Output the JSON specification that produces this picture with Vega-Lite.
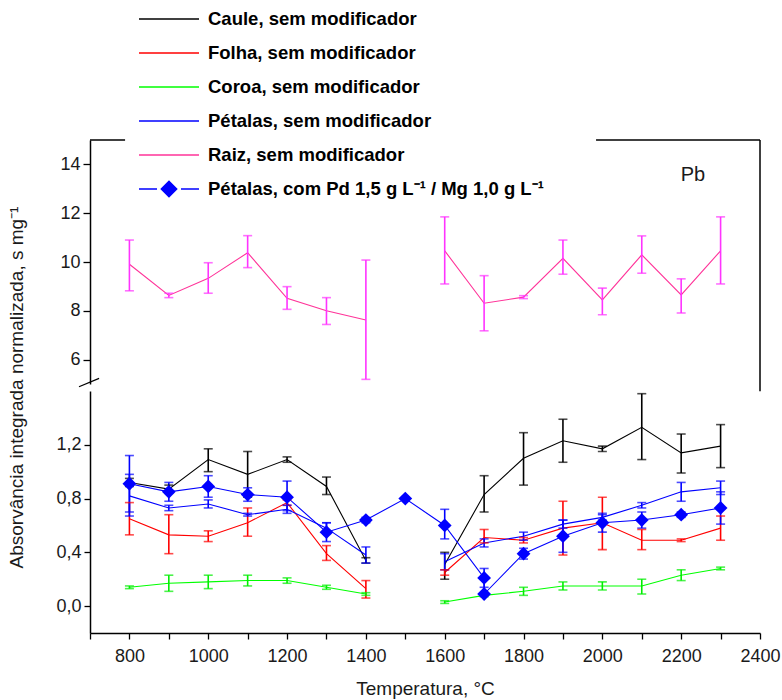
{
  "$schema": "https://vega.github.io/schema/vega-lite/v6.json",
  "padding": {"left": 6, "top": 0, "right": 10, "bottom": 5},
  "bounds": "flush",
  "spacing": 7,
  "background": "white",
  "config": {
    "view": {"stroke": null},
    "font": "Liberation Sans",
    "axis": {
      "grid": false,
      "domainColor": "#000",
      "domainWidth": 1.5,
      "tickColor": "#000",
      "tickWidth": 1.3,
      "labelColor": "#1a1a1a",
      "labelFont": "Liberation Sans Narrow, Liberation Sans",
      "labelFontSize": 18,
      "labelOverlap": false,
      "titleColor": "#1a1a1a",
      "titleFont": "Liberation Sans",
      "titleFontWeight": "normal"
    }
  },
  "resolve": {"scale": {"color": "shared", "stroke": "shared", "fill": "shared", "x": "shared"}},
  "datasets": {
    "d": [
      {"s": "Caule, sem modificador", "p": "a", "T": 800, "v": 0.92, "lo": 0.89, "hi": 0.95},
      {"s": "Caule, sem modificador", "p": "a", "T": 900, "v": 0.87, "lo": 0.84, "hi": 0.90},
      {"s": "Caule, sem modificador", "p": "a", "T": 1000, "v": 1.09, "lo": 1.00, "hi": 1.17},
      {"s": "Caule, sem modificador", "p": "a", "T": 1100, "v": 0.98, "lo": 0.81, "hi": 1.15},
      {"s": "Caule, sem modificador", "p": "a", "T": 1200, "v": 1.09, "lo": 1.07, "hi": 1.11},
      {"s": "Caule, sem modificador", "p": "a", "T": 1300, "v": 0.89, "lo": 0.83, "hi": 0.96},
      {"s": "Caule, sem modificador", "p": "a", "T": 1400, "v": 0.34, "lo": 0.32, "hi": 0.36},
      {"s": "Caule, sem modificador", "p": "b", "T": 1600, "v": 0.31, "lo": 0.20, "hi": 0.40},
      {"s": "Caule, sem modificador", "p": "b", "T": 1700, "v": 0.83, "lo": 0.70, "hi": 0.97},
      {"s": "Caule, sem modificador", "p": "b", "T": 1800, "v": 1.10, "lo": 0.90, "hi": 1.29},
      {"s": "Caule, sem modificador", "p": "b", "T": 1900, "v": 1.23, "lo": 1.07, "hi": 1.39},
      {"s": "Caule, sem modificador", "p": "b", "T": 2000, "v": 1.17, "lo": 1.15, "hi": 1.19},
      {"s": "Caule, sem modificador", "p": "b", "T": 2100, "v": 1.33, "lo": 1.09, "hi": 1.58},
      {"s": "Caule, sem modificador", "p": "b", "T": 2200, "v": 1.14, "lo": 0.99, "hi": 1.28},
      {"s": "Caule, sem modificador", "p": "b", "T": 2300, "v": 1.19, "lo": 1.03, "hi": 1.35},

      {"s": "Folha, sem modificador", "p": "a", "T": 800, "v": 0.65, "lo": 0.53, "hi": 0.77},
      {"s": "Folha, sem modificador", "p": "a", "T": 900, "v": 0.53, "lo": 0.39, "hi": 0.68},
      {"s": "Folha, sem modificador", "p": "a", "T": 1000, "v": 0.52, "lo": 0.48, "hi": 0.56},
      {"s": "Folha, sem modificador", "p": "a", "T": 1100, "v": 0.62, "lo": 0.52, "hi": 0.73},
      {"s": "Folha, sem modificador", "p": "a", "T": 1200, "v": 0.77, "lo": 0.75, "hi": 0.79},
      {"s": "Folha, sem modificador", "p": "a", "T": 1300, "v": 0.39, "lo": 0.34, "hi": 0.45},
      {"s": "Folha, sem modificador", "p": "a", "T": 1400, "v": 0.13, "lo": 0.06, "hi": 0.19},
      {"s": "Folha, sem modificador", "p": "b", "T": 1600, "v": 0.25, "lo": 0.23, "hi": 0.27},
      {"s": "Folha, sem modificador", "p": "b", "T": 1700, "v": 0.51, "lo": 0.47, "hi": 0.57},
      {"s": "Folha, sem modificador", "p": "b", "T": 1800, "v": 0.49, "lo": 0.47, "hi": 0.51},
      {"s": "Folha, sem modificador", "p": "b", "T": 1900, "v": 0.58, "lo": 0.38, "hi": 0.78},
      {"s": "Folha, sem modificador", "p": "b", "T": 2000, "v": 0.62, "lo": 0.42, "hi": 0.81},
      {"s": "Folha, sem modificador", "p": "b", "T": 2100, "v": 0.49, "lo": 0.42, "hi": 0.57},
      {"s": "Folha, sem modificador", "p": "b", "T": 2200, "v": 0.49, "lo": 0.48, "hi": 0.50},
      {"s": "Folha, sem modificador", "p": "b", "T": 2300, "v": 0.58, "lo": 0.49, "hi": 0.67},

      {"s": "Coroa, sem modificador", "p": "a", "T": 800, "v": 0.14, "lo": 0.13, "hi": 0.15},
      {"s": "Coroa, sem modificador", "p": "a", "T": 900, "v": 0.17, "lo": 0.11, "hi": 0.23},
      {"s": "Coroa, sem modificador", "p": "a", "T": 1000, "v": 0.18, "lo": 0.13, "hi": 0.23},
      {"s": "Coroa, sem modificador", "p": "a", "T": 1100, "v": 0.19, "lo": 0.15, "hi": 0.23},
      {"s": "Coroa, sem modificador", "p": "a", "T": 1200, "v": 0.19, "lo": 0.17, "hi": 0.21},
      {"s": "Coroa, sem modificador", "p": "a", "T": 1300, "v": 0.14, "lo": 0.125, "hi": 0.155},
      {"s": "Coroa, sem modificador", "p": "a", "T": 1400, "v": 0.09, "lo": 0.08, "hi": 0.10},
      {"s": "Coroa, sem modificador", "p": "b", "T": 1600, "v": 0.03, "lo": 0.02, "hi": 0.04},
      {"s": "Coroa, sem modificador", "p": "b", "T": 1700, "v": 0.08, "lo": 0.07, "hi": 0.09},
      {"s": "Coroa, sem modificador", "p": "b", "T": 1800, "v": 0.11, "lo": 0.08, "hi": 0.14},
      {"s": "Coroa, sem modificador", "p": "b", "T": 1900, "v": 0.15, "lo": 0.12, "hi": 0.18},
      {"s": "Coroa, sem modificador", "p": "b", "T": 2000, "v": 0.15, "lo": 0.12, "hi": 0.18},
      {"s": "Coroa, sem modificador", "p": "b", "T": 2100, "v": 0.15, "lo": 0.09, "hi": 0.20},
      {"s": "Coroa, sem modificador", "p": "b", "T": 2200, "v": 0.23, "lo": 0.19, "hi": 0.27},
      {"s": "Coroa, sem modificador", "p": "b", "T": 2300, "v": 0.28, "lo": 0.27, "hi": 0.29},

      {"s": "Pétalas, sem modificador", "p": "a", "T": 800, "v": 0.82, "lo": 0.67, "hi": 0.98},
      {"s": "Pétalas, sem modificador", "p": "a", "T": 900, "v": 0.73, "lo": 0.71, "hi": 0.75},
      {"s": "Pétalas, sem modificador", "p": "a", "T": 1000, "v": 0.76, "lo": 0.73, "hi": 0.79},
      {"s": "Pétalas, sem modificador", "p": "a", "T": 1100, "v": 0.68, "lo": 0.67, "hi": 0.69},
      {"s": "Pétalas, sem modificador", "p": "a", "T": 1200, "v": 0.72, "lo": 0.69, "hi": 0.75},
      {"s": "Pétalas, sem modificador", "p": "a", "T": 1300, "v": 0.58, "lo": 0.54, "hi": 0.62},
      {"s": "Pétalas, sem modificador", "p": "a", "T": 1400, "v": 0.38, "lo": 0.32, "hi": 0.44},
      {"s": "Pétalas, sem modificador", "p": "b", "T": 1600, "v": 0.33, "lo": 0.27, "hi": 0.39},
      {"s": "Pétalas, sem modificador", "p": "b", "T": 1700, "v": 0.47, "lo": 0.44, "hi": 0.50},
      {"s": "Pétalas, sem modificador", "p": "b", "T": 1800, "v": 0.52, "lo": 0.49, "hi": 0.55},
      {"s": "Pétalas, sem modificador", "p": "b", "T": 1900, "v": 0.61, "lo": 0.58, "hi": 0.64},
      {"s": "Pétalas, sem modificador", "p": "b", "T": 2000, "v": 0.66, "lo": 0.64, "hi": 0.68},
      {"s": "Pétalas, sem modificador", "p": "b", "T": 2100, "v": 0.75, "lo": 0.73, "hi": 0.77},
      {"s": "Pétalas, sem modificador", "p": "b", "T": 2200, "v": 0.85, "lo": 0.78, "hi": 0.92},
      {"s": "Pétalas, sem modificador", "p": "b", "T": 2300, "v": 0.88, "lo": 0.83, "hi": 0.93},

      {"s": "Raiz, sem modificador", "p": "a", "T": 800, "v": 9.91, "lo": 8.82, "hi": 10.90},
      {"s": "Raiz, sem modificador", "p": "a", "T": 900, "v": 8.63, "lo": 8.54, "hi": 8.72},
      {"s": "Raiz, sem modificador", "p": "a", "T": 1000, "v": 9.33, "lo": 8.72, "hi": 9.97},
      {"s": "Raiz, sem modificador", "p": "a", "T": 1100, "v": 10.38, "lo": 9.77, "hi": 11.08},
      {"s": "Raiz, sem modificador", "p": "a", "T": 1200, "v": 8.51, "lo": 8.06, "hi": 8.99},
      {"s": "Raiz, sem modificador", "p": "a", "T": 1300, "v": 8.00, "lo": 7.44, "hi": 8.54},
      {"s": "Raiz, sem modificador", "p": "a", "T": 1400, "v": 7.62, "lo": 5.19, "hi": 10.08},
      {"s": "Raiz, sem modificador", "p": "b", "T": 1600, "v": 10.46, "lo": 9.10, "hi": 11.85},
      {"s": "Raiz, sem modificador", "p": "b", "T": 1700, "v": 8.31, "lo": 7.18, "hi": 9.44},
      {"s": "Raiz, sem modificador", "p": "b", "T": 1800, "v": 8.56, "lo": 8.50, "hi": 8.62},
      {"s": "Raiz, sem modificador", "p": "b", "T": 1900, "v": 10.15, "lo": 9.50, "hi": 10.90},
      {"s": "Raiz, sem modificador", "p": "b", "T": 2000, "v": 8.45, "lo": 7.84, "hi": 8.93},
      {"s": "Raiz, sem modificador", "p": "b", "T": 2100, "v": 10.29, "lo": 9.54, "hi": 11.07},
      {"s": "Raiz, sem modificador", "p": "b", "T": 2200, "v": 8.65, "lo": 7.91, "hi": 9.31},
      {"s": "Raiz, sem modificador", "p": "b", "T": 2300, "v": 10.46, "lo": 9.10, "hi": 11.85},

      {"s": "Pétalas, com Pd 1,5 g L⁻¹ / Mg 1,0 g L⁻¹", "p": "a", "T": 800, "v": 0.91, "lo": 0.70, "hi": 1.12},
      {"s": "Pétalas, com Pd 1,5 g L⁻¹ / Mg 1,0 g L⁻¹", "p": "a", "T": 900, "v": 0.85, "lo": 0.78, "hi": 0.92},
      {"s": "Pétalas, com Pd 1,5 g L⁻¹ / Mg 1,0 g L⁻¹", "p": "a", "T": 1000, "v": 0.89, "lo": 0.81, "hi": 0.97},
      {"s": "Pétalas, com Pd 1,5 g L⁻¹ / Mg 1,0 g L⁻¹", "p": "a", "T": 1100, "v": 0.83, "lo": 0.78, "hi": 0.88},
      {"s": "Pétalas, com Pd 1,5 g L⁻¹ / Mg 1,0 g L⁻¹", "p": "a", "T": 1200, "v": 0.81, "lo": 0.71, "hi": 0.93},
      {"s": "Pétalas, com Pd 1,5 g L⁻¹ / Mg 1,0 g L⁻¹", "p": "a", "T": 1300, "v": 0.55, "lo": 0.48, "hi": 0.62},
      {"s": "Pétalas, com Pd 1,5 g L⁻¹ / Mg 1,0 g L⁻¹", "p": "a", "T": 1400, "v": 0.64, "lo": 0.62, "hi": 0.66},
      {"s": "Pétalas, com Pd 1,5 g L⁻¹ / Mg 1,0 g L⁻¹", "p": "a", "T": 1500, "v": 0.80},
      {"s": "Pétalas, com Pd 1,5 g L⁻¹ / Mg 1,0 g L⁻¹", "p": "a", "T": 1600, "v": 0.60, "lo": 0.50, "hi": 0.72},
      {"s": "Pétalas, com Pd 1,5 g L⁻¹ / Mg 1,0 g L⁻¹", "p": "a", "T": 1700, "v": 0.21, "lo": 0.14, "hi": 0.28},
      {"s": "Pétalas, com Pd 1,5 g L⁻¹ / Mg 1,0 g L⁻¹", "p": "a", "T": 1700, "v": 0.09},
      {"s": "Pétalas, com Pd 1,5 g L⁻¹ / Mg 1,0 g L⁻¹", "p": "a", "T": 1800, "v": 0.39, "lo": 0.35, "hi": 0.43},
      {"s": "Pétalas, com Pd 1,5 g L⁻¹ / Mg 1,0 g L⁻¹", "p": "a", "T": 1900, "v": 0.52, "lo": 0.40, "hi": 0.64},
      {"s": "Pétalas, com Pd 1,5 g L⁻¹ / Mg 1,0 g L⁻¹", "p": "a", "T": 2000, "v": 0.62, "lo": 0.55, "hi": 0.69},
      {"s": "Pétalas, com Pd 1,5 g L⁻¹ / Mg 1,0 g L⁻¹", "p": "a", "T": 2100, "v": 0.64, "lo": 0.58, "hi": 0.70},
      {"s": "Pétalas, com Pd 1,5 g L⁻¹ / Mg 1,0 g L⁻¹", "p": "a", "T": 2200, "v": 0.68, "lo": 0.66, "hi": 0.70},
      {"s": "Pétalas, com Pd 1,5 g L⁻¹ / Mg 1,0 g L⁻¹", "p": "a", "T": 2300, "v": 0.73, "lo": 0.61, "hi": 0.85}
    ]
  },
  "vconcat": [
    {
      "width": 670,
      "height": 244,
      "layer": [
        {
          "data": {"values": [{}]},
          "mark": {"type": "rule", "color": "#000", "strokeWidth": 1.5},
          "encoding": {
            "x": {"datum": 700, "type": "quantitative", "scale": {"domain": [700, 2400], "nice": false, "zero": false}, "axis": null},
            "x2": {"datum": 789},
            "y": {"datum": 15, "type": "quantitative", "scale": {"domain": [5, 15], "nice": false, "zero": false}, "title": "Absorvância integrada normalizada, s mg⁻¹"}
          }
        },
        {
          "data": {"values": [{}]},
          "mark": {"type": "rule", "color": "#000", "strokeWidth": 1.5},
          "encoding": {
            "x": {"datum": 1984, "type": "quantitative", "axis": null},
            "x2": {"datum": 2400},
            "y": {"datum": 15, "type": "quantitative", "title": "Absorvância integrada normalizada, s mg⁻¹"}
          }
        },
        {
          "data": {"values": [{}]},
          "mark": {"type": "rule", "color": "#000", "strokeWidth": 1.5},
          "encoding": {
            "x": {"datum": 2400, "type": "quantitative", "axis": null},
            "y": {"datum": 15, "type": "quantitative", "title": "Absorvância integrada normalizada, s mg⁻¹"},
            "y2": {"datum": 4.7}
          }
        },
        {
          "data": {"values": [{}]},
          "mark": {"type": "rule", "color": "#000", "strokeWidth": 1.2},
          "encoding": {
            "x": {"datum": 672, "type": "quantitative", "axis": null},
            "x2": {"datum": 723},
            "y": {"datum": 4.89, "type": "quantitative", "title": "Absorvância integrada normalizada, s mg⁻¹"},
            "y2": {"datum": 5.23}
          }
        },
        {
          "data": {"values": [{}]},
          "mark": {"type": "text", "text": "Pb", "font": "Liberation Sans", "fontSize": 20, "color": "#1a1a1a", "baseline": "middle", "align": "center"},
          "encoding": {
            "x": {"datum": 2230, "type": "quantitative", "axis": null},
            "y": {"datum": 13.57, "type": "quantitative", "title": "Absorvância integrada normalizada, s mg⁻¹"}
          }
        },
        {
          "data": {"name": "d"},
          "transform": [{"filter": "datum.s === 'Raiz, sem modificador'"}],
          "mark": {"type": "line", "strokeWidth": 1.1},
          "encoding": {
            "x": {"field": "T", "type": "quantitative", "axis": null},
            "y": {
              "field": "v", "type": "quantitative",
              "title": "Absorvância integrada normalizada, s mg⁻¹",
              "axis": {
                "values": [6, 7, 8, 9, 10, 11, 12, 13, 14],
                "labelExpr": "datum.value % 2 === 0 ? datum.label : ''",
                "tickSize": {"condition": {"test": "datum.value % 2 === 0", "value": 7}, "value": 4},
                "labelPadding": 3,
                "titleX": -74,
                "titleY": 247,
                "titleAngle": -90,
                "titleAlign": "center",
                "titleBaseline": "middle",
                "titleFontSize": 19
              }
            },
            "color": {
              "field": "s", "type": "nominal",
              "scale": {
                "domain": ["Caule, sem modificador", "Folha, sem modificador", "Coroa, sem modificador", "Pétalas, sem modificador", "Raiz, sem modificador", "Pétalas, com Pd 1,5 g L⁻¹ / Mg 1,0 g L⁻¹"],
                "range": ["#000000", "#FF0000", "#00FF00", "#0000FF", "#FF3399", "#0000FF"]
              },
              "legend": {
                "orient": "none",
                "legendX": 46,
                "legendY": -140,
                "title": null,
                "padding": 2,
                "clipHeight": 34,
                "rowPadding": 0,
                "symbolType": "stroke",
                "symbolSize": 3600,
                "symbolStrokeWidth": 1.3,
                "labelOffset": 8,
                "labelFont": "Liberation Sans",
                "labelFontSize": 18.5,
                "labelFontWeight": "bold",
                "labelColor": "#000",
                "labelLimit": 0,
                "fillColor": "#ffffff",
                "zindex": 1,
                "encode": {
                  "symbols": {
                    "update": {
                      "shape": {"signal": "indexof(datum.value, 'com Pd') >= 0 ? 'M-1,0H-0.4M0.4,0H1M0,-0.26L0.26,0L0,0.26L-0.26,0Z' : 'stroke'"},
                      "fill": {"value": "#0000FF"},
                      "opacity": {"value": 1}
                    }
                  }
                }
              }
            },
            "detail": {"field": "p"},
            "order": {"value": null}
          }
        },
        {
          "data": {"name": "d"},
          "transform": [{"filter": "datum.s === 'Raiz, sem modificador'"}],
          "mark": {"type": "rule", "strokeWidth": 1.6},
          "encoding": {
            "x": {"field": "T", "type": "quantitative", "axis": null},
            "y": {"field": "lo", "type": "quantitative", "title": "Absorvância integrada normalizada, s mg⁻¹"},
            "y2": {"field": "hi"},
            "stroke": {
              "field": "s", "type": "nominal", "legend": null,
              "scale": {
                "domain": ["Caule, sem modificador", "Folha, sem modificador", "Coroa, sem modificador", "Pétalas, sem modificador", "Raiz, sem modificador", "Pétalas, com Pd 1,5 g L⁻¹ / Mg 1,0 g L⁻¹"],
                "range": ["#000000", "#FF0000", "#00EE00", "#0000FF", "#FF33FF", "#0000FF"]
              }
            }
          }
        },
        {
          "data": {"name": "d"},
          "transform": [{"filter": "datum.s === 'Raiz, sem modificador'"}],
          "mark": {"type": "tick", "orient": "horizontal", "size": 9, "thickness": 1.6},
          "encoding": {
            "x": {"field": "T", "type": "quantitative", "axis": null},
            "y": {"field": "lo", "type": "quantitative", "title": "Absorvância integrada normalizada, s mg⁻¹"},
            "fill": {
              "field": "s", "type": "nominal", "legend": null,
              "scale": {
                "domain": ["Caule, sem modificador", "Folha, sem modificador", "Coroa, sem modificador", "Pétalas, sem modificador", "Raiz, sem modificador", "Pétalas, com Pd 1,5 g L⁻¹ / Mg 1,0 g L⁻¹"],
                "range": ["#000000", "#FF0000", "#00EE00", "#0000FF", "#FF33FF", "#0000FF"]
              }
            }
          }
        },
        {
          "data": {"name": "d"},
          "transform": [{"filter": "datum.s === 'Raiz, sem modificador'"}],
          "mark": {"type": "tick", "orient": "horizontal", "size": 9, "thickness": 1.6},
          "encoding": {
            "x": {"field": "T", "type": "quantitative", "axis": null},
            "y": {"field": "hi", "type": "quantitative", "title": "Absorvância integrada normalizada, s mg⁻¹"},
            "fill": {"field": "s", "type": "nominal", "legend": null}
          }
        }
      ]
    },
    {
      "width": 670,
      "height": 242,
      "encoding": {
        "x": {
          "field": "T", "type": "quantitative",
          "title": "Temperatura, °C",
          "scale": {"domain": [700, 2400], "nice": false, "zero": false},
          "axis": {
            "values": [700, 800, 900, 1000, 1100, 1200, 1300, 1400, 1500, 1600, 1700, 1800, 1900, 2000, 2100, 2200, 2300, 2400],
            "format": "d",
            "labelExpr": "datum.value % 200 === 0 ? datum.label : ''",
            "labelOverlap": false,
            "labelFlush": false,
            "tickSize": 6,
            "labelPadding": 8,
            "titlePadding": 14,
            "titleFontSize": 19
          }
        }
      },
      "layer": [
        {
          "data": {"name": "d"},
          "transform": [{"filter": "datum.s !== 'Raiz, sem modificador'"}],
          "mark": {"type": "line", "strokeWidth": 1.1},
          "encoding": {
            "y": {
              "field": "v", "type": "quantitative", "title": null,
              "scale": {"domain": [-0.2, 1.6], "nice": false, "zero": false},
              "axis": {
                "values": [0, 0.2, 0.4, 0.6, 0.8, 1, 1.2, 1.4],
                "labelExpr": "round(datum.value*10) % 4 === 0 ? replace(format(datum.value, '.1f'), '.', ',') : ''",
                "labelOverlap": false,
                "tickSize": 6,
                "labelPadding": 3
              }
            },
            "color": {"field": "s", "type": "nominal"},
            "detail": {"field": "p"},
            "order": {"value": null}
          }
        },
        {
          "data": {"name": "d"},
          "transform": [{"filter": "datum.s !== 'Raiz, sem modificador' && isValid(datum.lo)"}],
          "mark": {"type": "rule", "strokeWidth": 1.6},
          "encoding": {
            "y": {"field": "lo", "type": "quantitative", "title": null},
            "y2": {"field": "hi"},
            "stroke": {"field": "s", "type": "nominal", "legend": null}
          }
        },
        {
          "data": {"name": "d"},
          "transform": [{"filter": "datum.s !== 'Raiz, sem modificador' && isValid(datum.lo)"}],
          "mark": {"type": "tick", "orient": "horizontal", "size": 9, "thickness": 1.6},
          "encoding": {
            "y": {"field": "lo", "type": "quantitative", "title": null},
            "fill": {"field": "s", "type": "nominal", "legend": null}
          }
        },
        {
          "data": {"name": "d"},
          "transform": [{"filter": "datum.s !== 'Raiz, sem modificador' && isValid(datum.hi)"}],
          "mark": {"type": "tick", "orient": "horizontal", "size": 9, "thickness": 1.6},
          "encoding": {
            "y": {"field": "hi", "type": "quantitative", "title": null},
            "fill": {"field": "s", "type": "nominal", "legend": null}
          }
        },
        {
          "data": {"name": "d"},
          "transform": [{"filter": "indexof(datum.s, 'com Pd') >= 0"}],
          "mark": {"type": "point", "shape": "diamond", "filled": true, "size": 190, "opacity": 1},
          "encoding": {
            "y": {"field": "v", "type": "quantitative", "title": null},
            "color": {"field": "s", "type": "nominal"}
          }
        },
        {
          "data": {"values": [{}]},
          "mark": {"type": "rule", "color": "#000", "strokeWidth": 1.5},
          "encoding": {
            "x": {"datum": 2400, "type": "quantitative", "title": "Temperatura, °C"},
            "y": {"datum": -0.2, "type": "quantitative", "title": null},
            "y2": {"datum": 1.6}
          }
        },
        {
          "data": {"values": [{}]},
          "mark": {"type": "rule", "color": "#000", "strokeWidth": 1.2},
          "encoding": {
            "x": {"datum": 672, "type": "quantitative", "title": "Temperatura, °C"},
            "x2": {"datum": 723},
            "y": {"datum": 1.563, "type": "quantitative", "title": null},
            "y2": {"datum": 1.63}
          }
        }
      ]
    }
  ]
}
